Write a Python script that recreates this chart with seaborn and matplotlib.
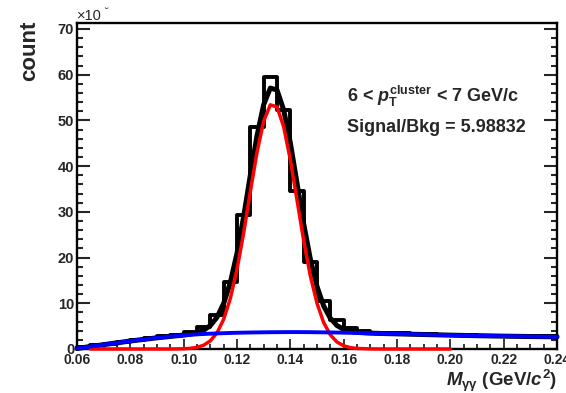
import numpy as np
import pandas as pd
import matplotlib
matplotlib.use("Agg")
import matplotlib.pyplot as plt
import seaborn as sns
from matplotlib.ticker import MultipleLocator

# ---------------- data ----------------
bin_edges_lo = [0.060, 0.065, 0.070, 0.075, 0.080, 0.085, 0.090, 0.095, 0.100, 0.105,
                0.110, 0.115, 0.120, 0.125, 0.130, 0.135, 0.140, 0.145, 0.150, 0.155,
                0.160, 0.165, 0.170, 0.175, 0.180, 0.185, 0.190, 0.195, 0.200, 0.205,
                0.210, 0.215, 0.220, 0.225, 0.230, 0.235]
bin_counts = [0.4, 0.8, 1.2, 1.6, 2.0, 2.4, 2.8, 3.1, 3.8, 4.9,
              7.4, 14.7, 29.3, 48.6, 59.5, 52.3, 34.6, 19.1, 10.5, 6.3,
              4.5, 3.9, 3.6, 3.5, 3.4, 3.3, 3.2, 3.15, 3.1, 3.0,
              2.95, 2.9, 2.85, 2.8, 2.75, 2.75]
bin_width = 0.005

curve_x = [0.060, 0.065, 0.070, 0.075, 0.080, 0.085, 0.090, 0.095, 0.100, 0.1025,
           0.105, 0.1075, 0.110, 0.1125, 0.115, 0.1175, 0.120, 0.1225, 0.125, 0.1275,
           0.130, 0.1325, 0.135, 0.1375, 0.140, 0.1425, 0.145, 0.1475, 0.150, 0.1525,
           0.155, 0.1575, 0.160, 0.1625, 0.165, 0.170, 0.175, 0.180, 0.185, 0.190,
           0.195, 0.200, 0.205, 0.210, 0.215, 0.220, 0.225, 0.230, 0.235, 0.240]
background = [0.10, 0.55, 0.95, 1.35, 1.75, 2.10, 2.45, 2.75, 3.00, 3.10,
              3.20, 3.28, 3.35, 3.41, 3.46, 3.51, 3.55, 3.58, 3.61, 3.63,
              3.65, 3.67, 3.68, 3.69, 3.70, 3.70, 3.69, 3.68, 3.66, 3.64,
              3.62, 3.60, 3.57, 3.54, 3.51, 3.45, 3.38, 3.31, 3.24, 3.17,
              3.10, 3.03, 2.97, 2.91, 2.86, 2.81, 2.77, 2.73, 2.70, 2.67]
signal = [np.nan, 0.0, 0.0, 0.0, 0.0, 0.0, 0.0, 0.0, 0.05, 0.14,
          0.36, 0.83, 1.78, 3.53, 6.50, 11.06, 17.4, 25.4, 34.4, 43.0,
          49.8, 53.4, 52.96, 48.6, 41.4, 32.6, 23.7, 16.0, 10.0, 5.78,
          3.10, 1.53, 0.70, 0.30, 0.12, 0.02, 0.0, 0.0, 0.0, 0.0,
          0.0, 0.0, np.nan, np.nan, np.nan, np.nan, np.nan, np.nan, np.nan, np.nan]

x_ticks = [0.06, 0.08, 0.10, 0.12, 0.14, 0.16, 0.18, 0.20, 0.22, 0.24]
x_tick_labels = ["0.06", "0.08", "0.10", "0.12", "0.14", "0.16", "0.18", "0.20", "0.22", "0.24"]
y_ticks = [0, 10, 20, 30, 40, 50, 60, 70]

# ---------------- style ----------------
sns.set_theme(style="ticks")
plt.rcParams["font.family"] = ["Liberation Sans", "DejaVu Sans"]
plt.rcParams["mathtext.fontset"] = "custom"
plt.rcParams["mathtext.rm"] = "Liberation Sans:bold"
plt.rcParams["mathtext.it"] = "Liberation Sans:italic:bold"
plt.rcParams["mathtext.bf"] = "Liberation Sans:bold"

W, H = 566, 393
fig = plt.figure(figsize=(W / 100, H / 100), dpi=100)
L, R, T, B = 77, 557, 23, 349
ax = fig.add_axes([L / W, 1 - B / H, (R - L) / W, (B - T) / H])

hist_df = pd.DataFrame({"x": np.array(bin_edges_lo) + bin_width / 2, "w": bin_counts})
edges = list(bin_edges_lo) + [bin_edges_lo[-1] + bin_width]
sns.histplot(data=hist_df, x="x", weights="w", bins=edges, element="step", fill=False,
             color="black", linewidth=2.8, ax=ax, zorder=2)

cdf = pd.DataFrame({"x": curve_x, "bkg": background, "sig": signal})
cdf["tot"] = cdf["bkg"] + cdf["sig"].fillna(0.0)

sns.lineplot(data=cdf, x="x", y="tot", color="black", linewidth=3.6, ax=ax,
             estimator=None, sort=False, zorder=3)
sig_df = cdf.dropna(subset=["sig"])
sns.lineplot(data=sig_df, x="x", y="sig", color="#ff0000", linewidth=2.5, ax=ax,
             estimator=None, sort=False, zorder=4)
sns.lineplot(data=cdf, x="x", y="bkg", color="#0000ff", linewidth=2.8, ax=ax,
             estimator=None, sort=False, zorder=5)
for ln in ax.lines:
    ln.set_clip_on(False)

ax.set_xlim(0.06, 0.24)
ax.set_ylim(0, 71.3)
ax.set_xlabel("")
ax.set_ylabel("")

ax.set_xticks(x_ticks)
ax.set_xticklabels(x_tick_labels)
ax.set_yticks(y_ticks)
ax.xaxis.set_minor_locator(MultipleLocator(0.005))
ax.yaxis.set_minor_locator(MultipleLocator(2))
ax.tick_params(axis="x", which="major", direction="in", length=7.5, width=1.3,
               labelsize=10, pad=3, top=False, bottom=True)
ax.tick_params(axis="x", which="minor", direction="in", length=3.6, width=1.3, top=False)
ax.tick_params(axis="y", which="major", direction="in", length=9.5, width=1.5,
               labelsize=10.5, pad=2, right=True, left=True)
ax.tick_params(axis="y", which="minor", direction="in", length=4.3, width=1.5, right=True)
for lab in ax.get_xticklabels() + ax.get_yticklabels():
    lab.set_fontweight("bold")
for sp in ax.spines.values():
    sp.set_visible(True)
    sp.set_linewidth(1.7)
    sp.set_color("black")
    sp.set_zorder(1)

# labels and annotations
fig.text(30 / W, 1 - 21 / H, "count", rotation=90, ha="center", va="top",
         fontsize=16, fontweight="bold")
fig.text(557 / W, 1 - 386 / H, r"$M_{\mathrm{\gamma\gamma}}$ (GeV/$c^{2}$)", ha="right",
         va="baseline", fontsize=13.5, fontweight="bold")
fig.text(347 / W, 1 - 101.7 / H, r"6 < $p_{\mathrm{T}}^{\mathrm{cluster}}$ < 7 GeV/c",
         ha="left", va="baseline", fontsize=13, fontweight="bold")
fig.text(347 / W, 1 - 131.5 / H, "Signal/Bkg = 5.98832", ha="left", va="baseline",
         fontsize=13, fontweight="bold")
fig.text(77 / W, 1 - 20 / H, "×10", ha="left", va="baseline", fontsize=10.5)
fig.text(104 / W, 1 - 15 / H, "˘", ha="left", va="baseline", fontsize=8)

fig.savefig("out.png", dpi=100)
